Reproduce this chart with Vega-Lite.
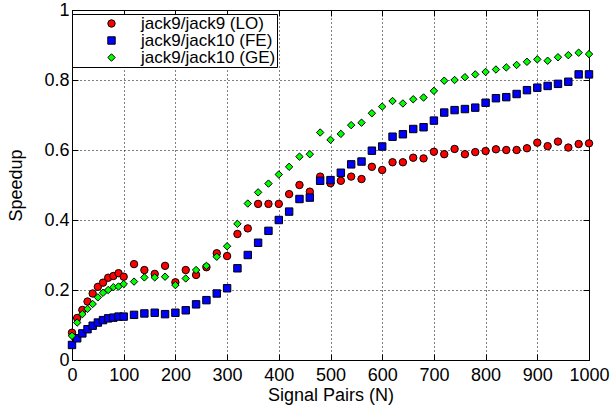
{
  "$schema": "https://vega.github.io/schema/vega-lite/v6.json",
  "width": 517,
  "height": 350,
  "autosize": {"type": "none"},
  "padding": {"left": 72, "top": 10, "right": 22, "bottom": 45},
  "background": "white",
  "config": {
    "font": "Liberation Sans",
    "view": {"stroke": "black", "strokeWidth": 1},
    "axis": {
      "labelFont": "Liberation Sans",
      "titleFont": "Liberation Sans",
      "labelFontSize": 18,
      "titleFontSize": 18,
      "titleFontWeight": "normal",
      "labelColor": "black",
      "titleColor": "black",
      "domain": false,
      "tickColor": "black",
      "tickSize": -6,
      "labelOverlap": false,
      "labelFlush": false,
      "gridColor": "black",
      "gridDash": [1, 3],
      "gridOpacity": 1,
      "gridWidth": 1
    },
    "legend": {"strokeColor": "black", "fillColor": "white"}
  },
  "data": {
    "values": [
      {"N":0,"series":"jack9/jack9 (LO)","speedup":0.078},
      {"N":10,"series":"jack9/jack9 (LO)","speedup":0.12},
      {"N":20,"series":"jack9/jack9 (LO)","speedup":0.143},
      {"N":30,"series":"jack9/jack9 (LO)","speedup":0.167},
      {"N":40,"series":"jack9/jack9 (LO)","speedup":0.19},
      {"N":50,"series":"jack9/jack9 (LO)","speedup":0.209},
      {"N":60,"series":"jack9/jack9 (LO)","speedup":0.221},
      {"N":70,"series":"jack9/jack9 (LO)","speedup":0.235},
      {"N":80,"series":"jack9/jack9 (LO)","speedup":0.24},
      {"N":90,"series":"jack9/jack9 (LO)","speedup":0.248},
      {"N":100,"series":"jack9/jack9 (LO)","speedup":0.238},
      {"N":120,"series":"jack9/jack9 (LO)","speedup":0.274},
      {"N":140,"series":"jack9/jack9 (LO)","speedup":0.257},
      {"N":160,"series":"jack9/jack9 (LO)","speedup":0.246},
      {"N":180,"series":"jack9/jack9 (LO)","speedup":0.269},
      {"N":200,"series":"jack9/jack9 (LO)","speedup":0.222},
      {"N":220,"series":"jack9/jack9 (LO)","speedup":0.257},
      {"N":240,"series":"jack9/jack9 (LO)","speedup":0.243},
      {"N":260,"series":"jack9/jack9 (LO)","speedup":0.265},
      {"N":280,"series":"jack9/jack9 (LO)","speedup":0.305},
      {"N":300,"series":"jack9/jack9 (LO)","speedup":0.297},
      {"N":320,"series":"jack9/jack9 (LO)","speedup":0.36},
      {"N":340,"series":"jack9/jack9 (LO)","speedup":0.376},
      {"N":360,"series":"jack9/jack9 (LO)","speedup":0.446},
      {"N":380,"series":"jack9/jack9 (LO)","speedup":0.446},
      {"N":400,"series":"jack9/jack9 (LO)","speedup":0.446},
      {"N":420,"series":"jack9/jack9 (LO)","speedup":0.474},
      {"N":440,"series":"jack9/jack9 (LO)","speedup":0.5},
      {"N":460,"series":"jack9/jack9 (LO)","speedup":0.481},
      {"N":480,"series":"jack9/jack9 (LO)","speedup":0.524},
      {"N":500,"series":"jack9/jack9 (LO)","speedup":0.505},
      {"N":520,"series":"jack9/jack9 (LO)","speedup":0.512},
      {"N":540,"series":"jack9/jack9 (LO)","speedup":0.524},
      {"N":560,"series":"jack9/jack9 (LO)","speedup":0.517},
      {"N":580,"series":"jack9/jack9 (LO)","speedup":0.552},
      {"N":600,"series":"jack9/jack9 (LO)","speedup":0.543},
      {"N":620,"series":"jack9/jack9 (LO)","speedup":0.565},
      {"N":640,"series":"jack9/jack9 (LO)","speedup":0.565},
      {"N":660,"series":"jack9/jack9 (LO)","speedup":0.578},
      {"N":680,"series":"jack9/jack9 (LO)","speedup":0.576},
      {"N":700,"series":"jack9/jack9 (LO)","speedup":0.595},
      {"N":720,"series":"jack9/jack9 (LO)","speedup":0.588},
      {"N":740,"series":"jack9/jack9 (LO)","speedup":0.603},
      {"N":760,"series":"jack9/jack9 (LO)","speedup":0.588},
      {"N":780,"series":"jack9/jack9 (LO)","speedup":0.594},
      {"N":800,"series":"jack9/jack9 (LO)","speedup":0.597},
      {"N":820,"series":"jack9/jack9 (LO)","speedup":0.602},
      {"N":840,"series":"jack9/jack9 (LO)","speedup":0.6},
      {"N":860,"series":"jack9/jack9 (LO)","speedup":0.6},
      {"N":880,"series":"jack9/jack9 (LO)","speedup":0.605},
      {"N":900,"series":"jack9/jack9 (LO)","speedup":0.621},
      {"N":920,"series":"jack9/jack9 (LO)","speedup":0.611},
      {"N":940,"series":"jack9/jack9 (LO)","speedup":0.624},
      {"N":960,"series":"jack9/jack9 (LO)","speedup":0.607},
      {"N":980,"series":"jack9/jack9 (LO)","speedup":0.617},
      {"N":1000,"series":"jack9/jack9 (LO)","speedup":0.619},
      {"N":0,"series":"jack9/jack10 (FE)","speedup":0.043},
      {"N":10,"series":"jack9/jack10 (FE)","speedup":0.062},
      {"N":20,"series":"jack9/jack10 (FE)","speedup":0.076},
      {"N":30,"series":"jack9/jack10 (FE)","speedup":0.088},
      {"N":40,"series":"jack9/jack10 (FE)","speedup":0.098},
      {"N":50,"series":"jack9/jack10 (FE)","speedup":0.107},
      {"N":60,"series":"jack9/jack10 (FE)","speedup":0.114},
      {"N":70,"series":"jack9/jack10 (FE)","speedup":0.119},
      {"N":80,"series":"jack9/jack10 (FE)","speedup":0.121},
      {"N":90,"series":"jack9/jack10 (FE)","speedup":0.124},
      {"N":100,"series":"jack9/jack10 (FE)","speedup":0.124},
      {"N":120,"series":"jack9/jack10 (FE)","speedup":0.129},
      {"N":140,"series":"jack9/jack10 (FE)","speedup":0.133},
      {"N":160,"series":"jack9/jack10 (FE)","speedup":0.135},
      {"N":180,"series":"jack9/jack10 (FE)","speedup":0.131},
      {"N":200,"series":"jack9/jack10 (FE)","speedup":0.135},
      {"N":220,"series":"jack9/jack10 (FE)","speedup":0.142},
      {"N":240,"series":"jack9/jack10 (FE)","speedup":0.159},
      {"N":260,"series":"jack9/jack10 (FE)","speedup":0.171},
      {"N":280,"series":"jack9/jack10 (FE)","speedup":0.19},
      {"N":300,"series":"jack9/jack10 (FE)","speedup":0.205},
      {"N":320,"series":"jack9/jack10 (FE)","speedup":0.262},
      {"N":340,"series":"jack9/jack10 (FE)","speedup":0.3},
      {"N":360,"series":"jack9/jack10 (FE)","speedup":0.335},
      {"N":380,"series":"jack9/jack10 (FE)","speedup":0.369},
      {"N":400,"series":"jack9/jack10 (FE)","speedup":0.4},
      {"N":420,"series":"jack9/jack10 (FE)","speedup":0.424},
      {"N":440,"series":"jack9/jack10 (FE)","speedup":0.46},
      {"N":460,"series":"jack9/jack10 (FE)","speedup":0.464},
      {"N":480,"series":"jack9/jack10 (FE)","speedup":0.512},
      {"N":500,"series":"jack9/jack10 (FE)","speedup":0.514},
      {"N":520,"series":"jack9/jack10 (FE)","speedup":0.535},
      {"N":540,"series":"jack9/jack10 (FE)","speedup":0.559},
      {"N":560,"series":"jack9/jack10 (FE)","speedup":0.567},
      {"N":580,"series":"jack9/jack10 (FE)","speedup":0.598},
      {"N":600,"series":"jack9/jack10 (FE)","speedup":0.61},
      {"N":620,"series":"jack9/jack10 (FE)","speedup":0.638},
      {"N":640,"series":"jack9/jack10 (FE)","speedup":0.645},
      {"N":660,"series":"jack9/jack10 (FE)","speedup":0.66},
      {"N":680,"series":"jack9/jack10 (FE)","speedup":0.665},
      {"N":700,"series":"jack9/jack10 (FE)","speedup":0.684},
      {"N":720,"series":"jack9/jack10 (FE)","speedup":0.707},
      {"N":740,"series":"jack9/jack10 (FE)","speedup":0.714},
      {"N":760,"series":"jack9/jack10 (FE)","speedup":0.717},
      {"N":780,"series":"jack9/jack10 (FE)","speedup":0.721},
      {"N":800,"series":"jack9/jack10 (FE)","speedup":0.735},
      {"N":820,"series":"jack9/jack10 (FE)","speedup":0.748},
      {"N":840,"series":"jack9/jack10 (FE)","speedup":0.751},
      {"N":860,"series":"jack9/jack10 (FE)","speedup":0.76},
      {"N":880,"series":"jack9/jack10 (FE)","speedup":0.771},
      {"N":900,"series":"jack9/jack10 (FE)","speedup":0.778},
      {"N":920,"series":"jack9/jack10 (FE)","speedup":0.783},
      {"N":940,"series":"jack9/jack10 (FE)","speedup":0.789},
      {"N":960,"series":"jack9/jack10 (FE)","speedup":0.795},
      {"N":980,"series":"jack9/jack10 (FE)","speedup":0.816},
      {"N":1000,"series":"jack9/jack10 (FE)","speedup":0.816},
      {"N":0,"series":"jack9/jack10 (GE)","speedup":0.069},
      {"N":10,"series":"jack9/jack10 (GE)","speedup":0.107},
      {"N":20,"series":"jack9/jack10 (GE)","speedup":0.131},
      {"N":30,"series":"jack9/jack10 (GE)","speedup":0.146},
      {"N":40,"series":"jack9/jack10 (GE)","speedup":0.16},
      {"N":50,"series":"jack9/jack10 (GE)","speedup":0.179},
      {"N":60,"series":"jack9/jack10 (GE)","speedup":0.192},
      {"N":70,"series":"jack9/jack10 (GE)","speedup":0.2},
      {"N":80,"series":"jack9/jack10 (GE)","speedup":0.208},
      {"N":90,"series":"jack9/jack10 (GE)","speedup":0.21},
      {"N":100,"series":"jack9/jack10 (GE)","speedup":0.217},
      {"N":120,"series":"jack9/jack10 (GE)","speedup":0.224},
      {"N":140,"series":"jack9/jack10 (GE)","speedup":0.236},
      {"N":160,"series":"jack9/jack10 (GE)","speedup":0.236},
      {"N":180,"series":"jack9/jack10 (GE)","speedup":0.238},
      {"N":200,"series":"jack9/jack10 (GE)","speedup":0.214},
      {"N":220,"series":"jack9/jack10 (GE)","speedup":0.233},
      {"N":240,"series":"jack9/jack10 (GE)","speedup":0.257},
      {"N":260,"series":"jack9/jack10 (GE)","speedup":0.269},
      {"N":280,"series":"jack9/jack10 (GE)","speedup":0.295},
      {"N":300,"series":"jack9/jack10 (GE)","speedup":0.325},
      {"N":320,"series":"jack9/jack10 (GE)","speedup":0.389},
      {"N":340,"series":"jack9/jack10 (GE)","speedup":0.447},
      {"N":360,"series":"jack9/jack10 (GE)","speedup":0.479},
      {"N":380,"series":"jack9/jack10 (GE)","speedup":0.504},
      {"N":400,"series":"jack9/jack10 (GE)","speedup":0.53},
      {"N":420,"series":"jack9/jack10 (GE)","speedup":0.552},
      {"N":440,"series":"jack9/jack10 (GE)","speedup":0.581},
      {"N":460,"series":"jack9/jack10 (GE)","speedup":0.588},
      {"N":480,"series":"jack9/jack10 (GE)","speedup":0.65},
      {"N":500,"series":"jack9/jack10 (GE)","speedup":0.629},
      {"N":520,"series":"jack9/jack10 (GE)","speedup":0.646},
      {"N":540,"series":"jack9/jack10 (GE)","speedup":0.671},
      {"N":560,"series":"jack9/jack10 (GE)","speedup":0.678},
      {"N":580,"series":"jack9/jack10 (GE)","speedup":0.705},
      {"N":600,"series":"jack9/jack10 (GE)","speedup":0.724},
      {"N":620,"series":"jack9/jack10 (GE)","speedup":0.74},
      {"N":640,"series":"jack9/jack10 (GE)","speedup":0.733},
      {"N":660,"series":"jack9/jack10 (GE)","speedup":0.745},
      {"N":680,"series":"jack9/jack10 (GE)","speedup":0.75},
      {"N":700,"series":"jack9/jack10 (GE)","speedup":0.769},
      {"N":720,"series":"jack9/jack10 (GE)","speedup":0.798},
      {"N":740,"series":"jack9/jack10 (GE)","speedup":0.8},
      {"N":760,"series":"jack9/jack10 (GE)","speedup":0.808},
      {"N":780,"series":"jack9/jack10 (GE)","speedup":0.816},
      {"N":800,"series":"jack9/jack10 (GE)","speedup":0.823},
      {"N":820,"series":"jack9/jack10 (GE)","speedup":0.83},
      {"N":840,"series":"jack9/jack10 (GE)","speedup":0.836},
      {"N":860,"series":"jack9/jack10 (GE)","speedup":0.843},
      {"N":880,"series":"jack9/jack10 (GE)","speedup":0.852},
      {"N":900,"series":"jack9/jack10 (GE)","speedup":0.859},
      {"N":920,"series":"jack9/jack10 (GE)","speedup":0.855},
      {"N":940,"series":"jack9/jack10 (GE)","speedup":0.865},
      {"N":960,"series":"jack9/jack10 (GE)","speedup":0.871},
      {"N":980,"series":"jack9/jack10 (GE)","speedup":0.878},
      {"N":1000,"series":"jack9/jack10 (GE)","speedup":0.874}
    ]
  },
  "layer": [
    {
      "mark": {"type": "point", "filled": true, "opacity": 1, "stroke": "black", "strokeWidth": 1},
      "encoding": {
        "x": {
          "field": "N", "type": "quantitative",
          "scale": {"domain": [0, 1000], "nice": false},
          "axis": {"orient": "bottom", "title": "Signal Pairs (N)", "values": [0,100,200,300,400,500,600,700,800,900,1000], "format": "d", "labelPadding": 12, "titlePadding": 2, "grid": true}
        },
        "y": {
          "field": "speedup", "type": "quantitative",
          "scale": {"domain": [0, 1], "nice": false},
          "axis": {"orient": "left", "title": "Speedup", "values": [0,0.2,0.4,0.6,0.8,1], "format": "~g", "labelPadding": 9, "titlePadding": 18, "grid": true}
        },
        "color": {
          "field": "series", "type": "nominal",
          "scale": {"domain": ["jack9/jack9 (LO)", "jack9/jack10 (FE)", "jack9/jack10 (GE)"], "range": ["#ff0000", "#0000ff", "#00ff00"]},
          "legend": {
            "title": null, "orient": "none", "legendX": 0, "legendY": 4,
            "strokeColor": "black", "fillColor": "white", "padding": 1,
            "labelFont": "Liberation Sans", "labelFontSize": 17, "labelColor": "black",
            "symbolStrokeColor": "black", "symbolStrokeWidth": 1, "symbolSize": 55,
            "symbolOffset": 30, "labelOffset": 21, "rowPadding": -1, "labelLimit": 400,
            "labelExpr": "datum.label + '       '",
            "encode": {"legend": {"update": {"stroke": {"value": "black"}, "strokeWidth": {"value": 1}, "fill": {"value": "white"}}}}
          }
        },
        "shape": {
          "field": "series", "type": "nominal",
          "scale": {"domain": ["jack9/jack9 (LO)", "jack9/jack10 (FE)", "jack9/jack10 (GE)"], "range": ["circle", "square", "diamond"]},
          "legend": null
        },
        "size": {
          "field": "series", "type": "nominal",
          "scale": {"domain": ["jack9/jack9 (LO)", "jack9/jack10 (FE)", "jack9/jack10 (GE)"], "range": [55, 55, 85]},
          "legend": null
        }
      }
    },
    {
      "mark": {"type": "point", "opacity": 0},
      "encoding": {
        "x": {"field": "N", "type": "quantitative", "axis": {"orient": "top", "labels": false, "title": null, "grid": false, "values": [0,100,200,300,400,500,600,700,800,900,1000]}},
        "y": {"field": "speedup", "type": "quantitative", "axis": {"orient": "right", "labels": false, "title": null, "grid": false, "values": [0,0.2,0.4,0.6,0.8,1]}}
      }
    }
  ],
  "resolve": {"axis": {"x": "independent", "y": "independent"}}
}
